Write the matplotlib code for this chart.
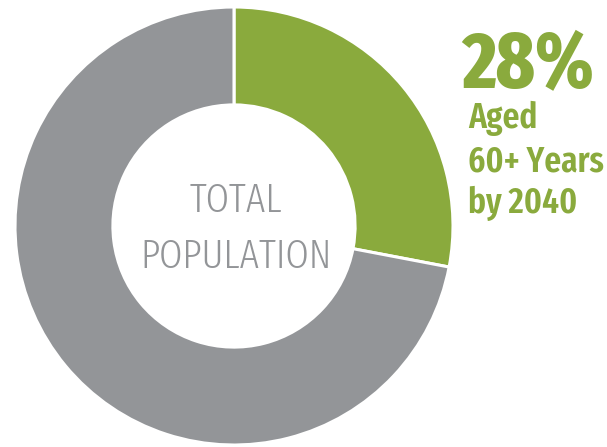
import matplotlib
matplotlib.use("Agg")
import matplotlib.pyplot as plt

# data
labels = ["Aged 60+ Years by 2040", "Rest of population"]
shares = [28, 72]
colors = ["#8aaa3d", "#939598"]
big_label = "28%"
side_lines = ["Aged", "60+ Years", "by 2040"]
center_lines = ["TOTAL", "POPULATION"]

W, H = 607, 447
fig = plt.figure(figsize=(W / 100, H / 100), dpi=100)

# donut: centre about (234, 226) px, outer radius about 219 px
ax = fig.add_axes([15 / W, 2 / H, 438 / W, 438 / H])
ax.pie(shares, colors=colors, startangle=90, counterclock=False,
       wedgeprops=dict(width=0.447, edgecolor="white", linewidth=2.2))
ax.set_xlim(-1, 1)
ax.set_ylim(-1, 1)
ax.set_aspect("equal")
ax.axis("off")

cond = ["Fira Sans Extra Condensed", "DejaVu Sans"]

def fx(px):
    return px / W

def fy(py):
    return 1 - py / H

# centre text
for line, base in zip(center_lines, [212, 268]):
    fig.text(fx(236), fy(base), line, ha="center", va="baseline",
             fontsize=29.5, fontweight=300, color="#939598", family=cond)

# side annotation
fig.text(fx(462), fy(88), big_label, ha="left", va="baseline",
         fontsize=57, fontweight=800, color=colors[0], family=cond)
for line, base in zip(side_lines, [128, 172, 213]):
    fig.text(fx(468), fy(base), line, ha="left", va="baseline",
             fontsize=26, fontweight=600, color=colors[0], family=cond)

fig.savefig("out.png", dpi=100, facecolor="white")
